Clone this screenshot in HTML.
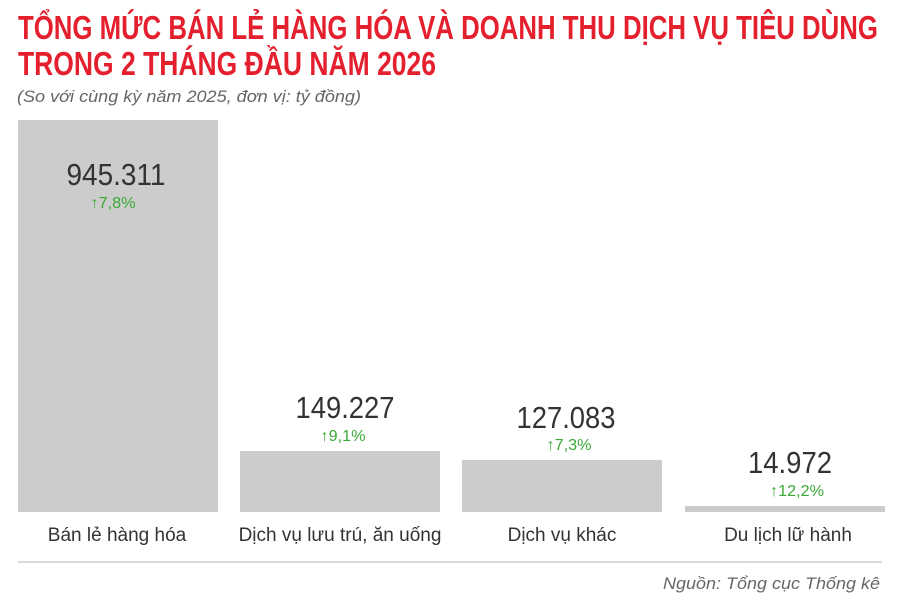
<!DOCTYPE html>
<html><head><meta charset="utf-8"><style>body{margin:0;background:#fff}</style></head><body>
<svg width="900" height="602" xmlns="http://www.w3.org/2000/svg" font-family="Liberation Sans, sans-serif">
<rect width="900" height="602" fill="#fff"/>
<text x="18" y="39" font-size="33" font-weight="bold" fill="#e5202e" textLength="860" lengthAdjust="spacingAndGlyphs">TỔNG MỨC BÁN LẺ HÀNG HÓA VÀ DOANH THU DỊCH VỤ TIÊU DÙNG</text>
<text x="18" y="75" font-size="33" font-weight="bold" fill="#e5202e" textLength="418" lengthAdjust="spacingAndGlyphs">TRONG 2 THÁNG ĐẦU NĂM 2026</text>
<text x="17" y="102" font-size="17" font-style="italic" fill="#666" textLength="344" lengthAdjust="spacingAndGlyphs">(So với cùng kỳ năm 2025, đơn vị: tỷ đồng)</text>
<g fill="#cccccc">
<rect x="18" y="120" width="200" height="392"/>
<rect x="240" y="451" width="200" height="61"/>
<rect x="462" y="460" width="200" height="52"/>
<rect x="685" y="506" width="200" height="6"/>
</g>
<g text-anchor="middle" fill="#333" font-size="31">
<text x="116" y="185" textLength="99" lengthAdjust="spacingAndGlyphs">945.311</text>
<text x="345" y="418" textLength="99" lengthAdjust="spacingAndGlyphs">149.227</text>
<text x="566" y="428" textLength="99" lengthAdjust="spacingAndGlyphs">127.083</text>
<text x="790" y="473" textLength="84" lengthAdjust="spacingAndGlyphs">14.972</text>
</g>
<g text-anchor="middle" fill="#3aaa35" font-size="16">
<text x="113" y="208" textLength="45" lengthAdjust="spacingAndGlyphs">↑7,8%</text>
<text x="343" y="441" textLength="45" lengthAdjust="spacingAndGlyphs">↑9,1%</text>
<text x="569" y="450" textLength="45" lengthAdjust="spacingAndGlyphs">↑7,3%</text>
<text x="797" y="496" textLength="54" lengthAdjust="spacingAndGlyphs">↑12,2%</text>
</g>
<g text-anchor="middle" fill="#333" font-size="19">
<text x="117" y="541">Bán lẻ hàng hóa</text>
<text x="340" y="541">Dịch vụ lưu trú, ăn uống</text>
<text x="562" y="541">Dịch vụ khác</text>
<text x="788" y="541">Du lịch lữ hành</text>
</g>
<line x1="18" y1="562" x2="882" y2="562" stroke="#ccc" stroke-width="1.5"/>
<text x="880" y="589" text-anchor="end" font-size="17" font-style="italic" fill="#666" textLength="217" lengthAdjust="spacingAndGlyphs">Nguồn: Tổng cục Thống kê</text>
</svg>
</body></html>
